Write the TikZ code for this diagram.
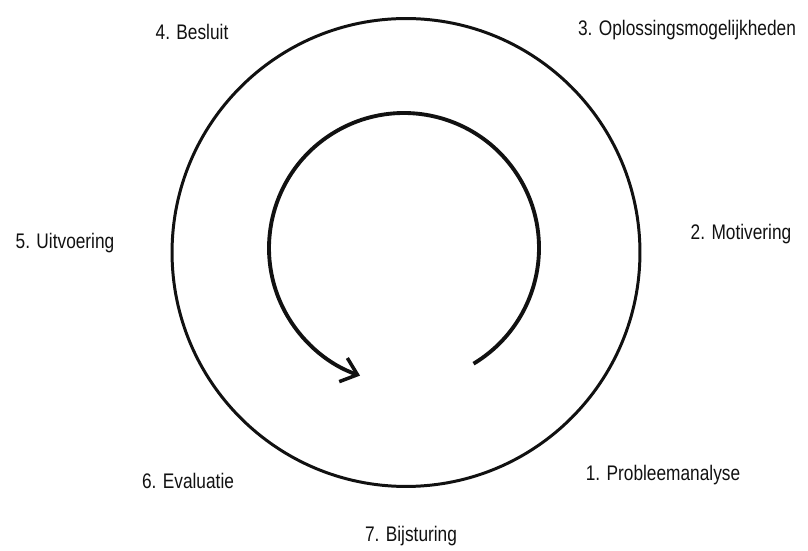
\documentclass[tikz,border=0pt]{standalone}
\usepackage{fontspec}
\setmainfont{Liberation Sans}[FakeStretch=0.82]
\usepackage{tikz}
\usetikzlibrary{arrows.meta,positioning,calc}
\definecolor{ink}{HTML}{111111}
\tikzset{
  steplabel/.style={inner sep=1pt,font=\fontsize{12}{14}\selectfont,text=ink},
  ringbox/.style={circle,draw=ink,line width=1.7pt,minimum size=9.36cm,inner sep=0pt},
  cyclearrow/.style={-{Straight Barb[length=3mm,width=5mm,line width=2pt]},line width=2.2pt,draw=ink}
}
\begin{document}
\begin{tikzpicture}[x=0.02cm,y=0.02cm]
  \useasboundingbox (0,0) rectangle (808,551);
  \node[ringbox] (ring) at (406,298.5) {};
  \coordinate (hub) at (404,303);
  \coordinate (arcstart) at ($(hub)+(-59:2.7cm)$);

  \node[steplabel] (s1) at (663,76) {1. Probleemanalyse};
  \node[steplabel] (s2) at (741,317) {2. Motivering};
  \node[steplabel] (s3) at (687,521) {3. Oplossingsmogelijkheden};
  \node[steplabel] (s4) at (192,519) {4. Besluit};
  \node[steplabel] (s5) at (65,308) {5. Uitvoering};
  \node[steplabel] (s6) at (188,70) {6. Evaluatie};
  \node[steplabel] (s7) at (411,15) {7. Bijsturing};

  \draw[cyclearrow] (arcstart) arc[start angle=-59,end angle=251,radius=2.7cm];
\end{tikzpicture}
\end{document}
